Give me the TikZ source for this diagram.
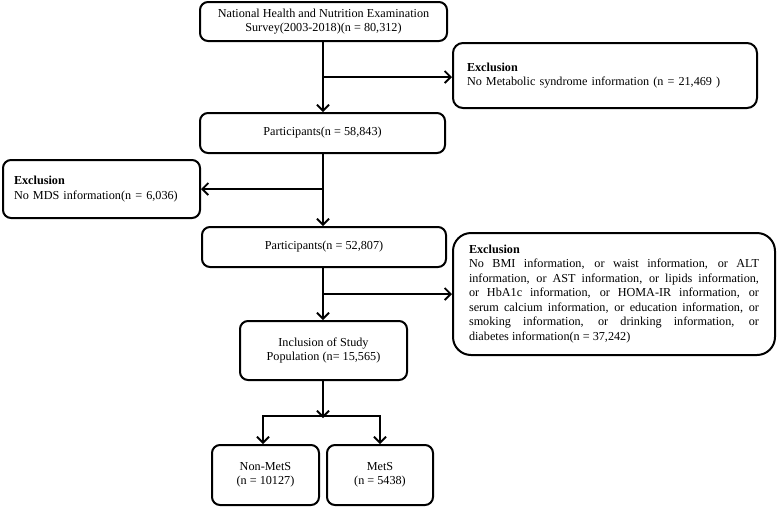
\documentclass[tikz,border=0pt]{standalone}
\usepackage{fontspec}
\setmainfont{Liberation Serif}
\usetikzlibrary{arrows.meta}
\begin{document}
\begin{tikzpicture}[x=1pt,y=-1pt,
  box/.style={draw,line width=2pt,rounded corners=8pt,align=center,inner sep=0pt,
    font=\fontsize{12.2}{14.5}\selectfont},
  exbox/.style={box,align=left,inner ysep=0pt},
  conn/.style={line width=1.8pt},
  arr/.style={conn,-{Straight Barb[length=6pt,width=12pt,line width=1.8pt]}}]
\useasboundingbox (0,0) rectangle (777,507);
\node[box,minimum width=247,minimum height=39] (top) at (323.5,21.5)
  {National Health and Nutrition Examination\\Survey(2003-2018)(n = 80,312)};
\node[exbox,rounded corners=10pt,minimum height=65,text width=276,inner xsep=14] (ex1) at (605,75.5)
  {\textbf{Exclusion}\\No Metabolic syndrome information (n = 21,469 )};
\node[box,minimum width=245,minimum height=40] (p1) at (322.5,133) {Participants(n = 58,843)};
\node[exbox,minimum height=58,text width=175,inner xsep=11] (ex2) at (101.5,189)
  {\textbf{Exclusion}\\No MDS information(n = 6,036)};
\node[box,minimum width=244,minimum height=40] (p2) at (324,247) {Participants(n = 52,807)};
\node[exbox,rounded corners=18pt,minimum height=122,text width=290,inner xsep=16,align=justify] (ex3) at (614,294)
  {\textbf{Exclusion}\\No BMI information, or waist information, or ALT\linebreak
  information, or AST information, or lipids information,\linebreak
  or HbA1c information, or HOMA-IR information, or\linebreak
  serum calcium information, or education information, or\linebreak
  smoking information, or drinking information, or\linebreak
  diabetes information(n = 37,242)};
\node[box,minimum width=167,minimum height=59] (inc) at (323.5,350.5)
  {Inclusion of Study\\Population (n= 15,565)};
\node[box,minimum width=107,minimum height=60] (non) at (265.5,475) {Non-MetS\\(n = 10127)};
\node[box,minimum width=106,minimum height=60] (mets) at (380,475) {MetS\\(n = 5438)};
\coordinate (b1) at (323,77);
\coordinate (b2) at (323,189);
\coordinate (b3) at (323,294);
\coordinate (s) at (323,416);
\coordinate (sl) at (263,416);
\coordinate (sr) at (380,416);
\draw[arr] (top.south -| b1) -- (p1.north -| b1);
\draw[arr] (b1) -- (ex1.west |- b1);
\draw[arr] (p1.south -| b2) -- (p2.north -| b2);
\draw[arr] (b2) -- (ex2.east |- b2);
\draw[arr] (p2.south -| b3) -- (inc.north -| b3);
\draw[arr] (b3) -- (ex3.west |- b3);
\draw[arr] (inc.south -| s) -- ([yshift=-2pt]s);
\draw[conn] ([xshift=-0.9pt]sl) -- ([xshift=0.9pt]sr);
\draw[arr] ([yshift=-0.9pt]sl) -- (non.north -| sl);
\draw[arr] ([yshift=-0.9pt]sr) -- (mets.north -| sr);
\end{tikzpicture}
\end{document}
